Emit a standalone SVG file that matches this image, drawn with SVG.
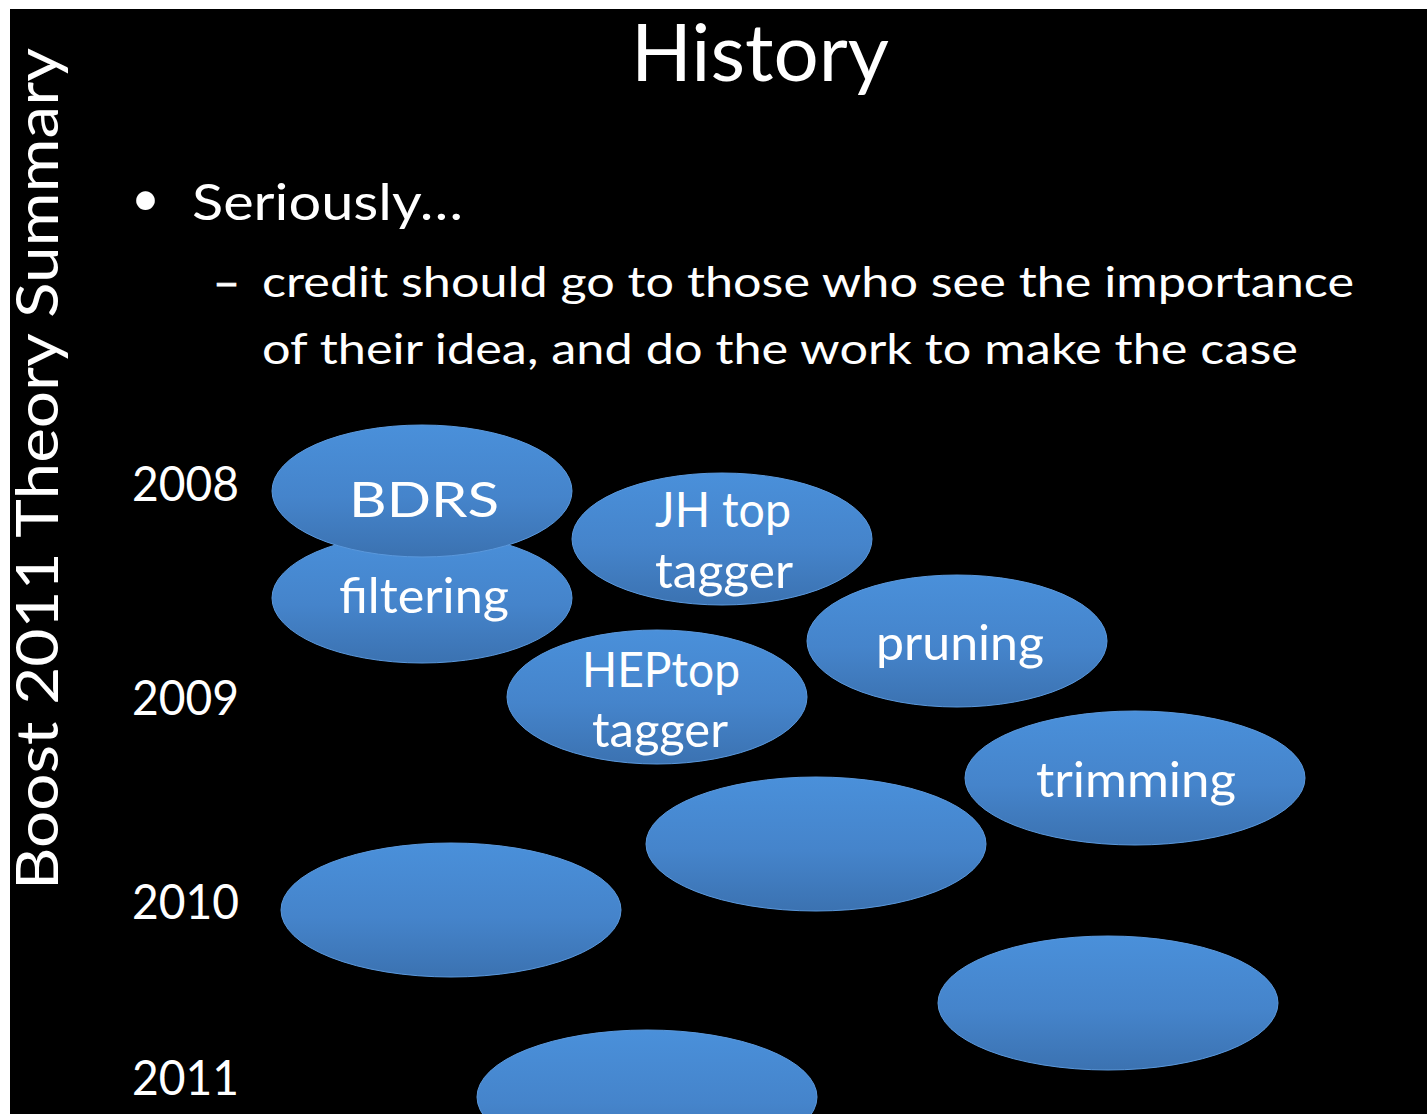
<svg xmlns="http://www.w3.org/2000/svg" width="1427" height="1114" viewBox="0 0 1427 1114">
<defs>
<linearGradient id="blue" x1="0" y1="0" x2="0" y2="1">
<stop offset="0" stop-color="#4a90da"/>
<stop offset="0.55" stop-color="#4584cb"/>
<stop offset="1" stop-color="#3b72b1"/>
</linearGradient>
<style>
.bub{fill:url(#blue);stroke:#5a98dc;stroke-width:1}
.t{font-family:Lato,"Open Sans","Liberation Sans",sans-serif;fill:#ffffff}
.nt{font-family:Lato,"Open Sans","Liberation Sans",sans-serif;fill:#ffffff;font-size:49px;text-anchor:middle}
.yr{font-family:Lato,"Open Sans","Liberation Sans",sans-serif;fill:#ffffff;font-size:48px}
</style>
</defs>
<rect x="0" y="0" width="1427" height="1114" fill="#ffffff"/>
<rect x="10" y="9" width="1417" height="1105" fill="#000000"/>

<text class="t" transform="translate(58,890) rotate(-90)" x="0" y="0" font-size="59" textLength="842" lengthAdjust="spacingAndGlyphs">Boost 2011 Theory Summary</text>

<text class="t" x="631" y="81" font-size="79" textLength="258" lengthAdjust="spacingAndGlyphs">History</text>

<text class="t" x="131" y="216" font-size="50">•</text>
<text class="t" x="192" y="220" font-size="51" textLength="271" lengthAdjust="spacingAndGlyphs">Seriously…</text>
<text class="t" x="213" y="297" font-size="43" textLength="27" lengthAdjust="spacingAndGlyphs" stroke="#ffffff" stroke-width="0.8">–</text>
<text class="t" x="262" y="297" font-size="43" textLength="1092" lengthAdjust="spacingAndGlyphs">credit should go to those who see the importance</text>
<text class="t" x="262" y="364" font-size="43" textLength="1036" lengthAdjust="spacingAndGlyphs">of their idea, and do the work to make the case</text>

<text class="yr" x="132" y="501" textLength="107" lengthAdjust="spacingAndGlyphs">2008</text>
<text class="yr" x="132" y="715" textLength="107" lengthAdjust="spacingAndGlyphs">2009</text>
<text class="yr" x="132" y="919" textLength="107" lengthAdjust="spacingAndGlyphs">2010</text>
<text class="yr" x="132" y="1095" textLength="107" lengthAdjust="spacingAndGlyphs">2011</text>

<g id="connectors"></g>

<g id="node-filtering">
<ellipse class="bub" cx="422" cy="598" rx="150" ry="65"/>
<text class="nt" x="424" y="613" textLength="170" lengthAdjust="spacingAndGlyphs">filtering</text>
</g>
<g id="node-bdrs">
<ellipse class="bub" cx="422" cy="491" rx="150" ry="66"/>
<text class="nt" x="424" y="517" font-size="63" textLength="150" lengthAdjust="spacingAndGlyphs">BDRS</text>
</g>
<g id="node-jh">
<ellipse class="bub" cx="722" cy="539" rx="150" ry="66"/>
<text class="nt" x="723" y="527" textLength="136" lengthAdjust="spacingAndGlyphs">JH top</text>
<text class="nt" x="724" y="588" textLength="138" lengthAdjust="spacingAndGlyphs">tagger</text>
</g>
<g id="node-pruning">
<ellipse class="bub" cx="957" cy="641" rx="150" ry="66"/>
<text class="nt" x="960" y="660" textLength="168" lengthAdjust="spacingAndGlyphs">pruning</text>
</g>
<g id="node-heptop">
<ellipse class="bub" cx="657" cy="697" rx="150" ry="67"/>
<text class="nt" x="661" y="687" textLength="158" lengthAdjust="spacingAndGlyphs">HEPtop</text>
<text class="nt" x="660" y="747" textLength="136" lengthAdjust="spacingAndGlyphs">tagger</text>
</g>
<g id="node-trimming">
<ellipse class="bub" cx="1135" cy="778" rx="170" ry="67"/>
<text class="nt" x="1136" y="797" textLength="200" lengthAdjust="spacingAndGlyphs">trimming</text>
</g>
<g id="node-blank1">
<ellipse class="bub" cx="816" cy="844" rx="170" ry="67"/>
</g>
<g id="node-blank2">
<ellipse class="bub" cx="451" cy="910" rx="170" ry="67"/>
</g>
<g id="node-blank3">
<ellipse class="bub" cx="1108" cy="1003" rx="170" ry="67"/>
</g>
<g id="node-blank4">
<ellipse class="bub" cx="647" cy="1097" rx="170" ry="67"/>
</g>
</svg>
